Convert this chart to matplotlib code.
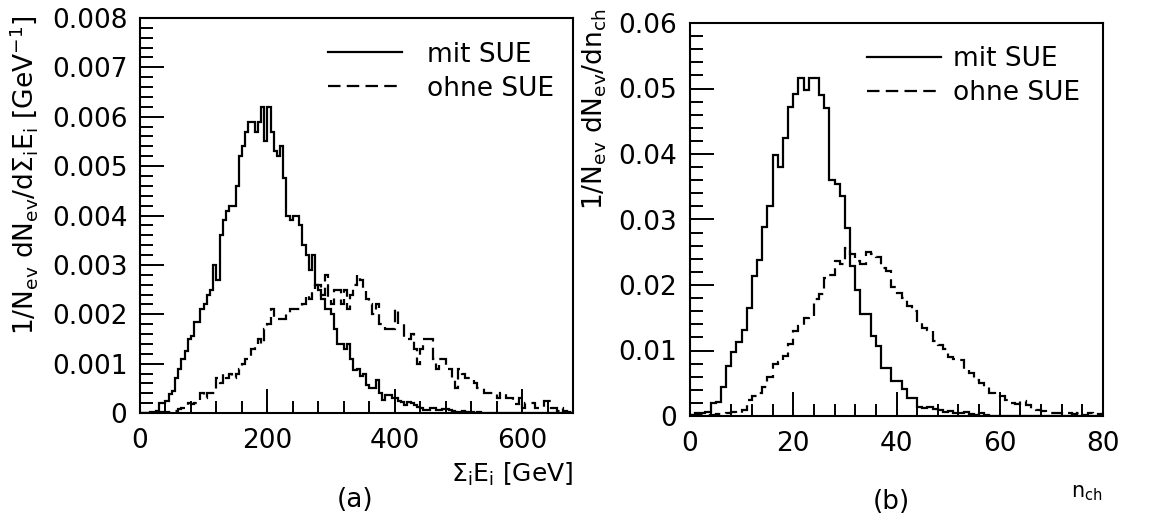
import numpy as np
import matplotlib
matplotlib.use("Agg")
import matplotlib.pyplot as plt
from matplotlib.lines import Line2D
from matplotlib.ticker import MultipleLocator, FuncFormatter

plt.rcParams['font.family'] = ['DejaVu Sans']
plt.rcParams['mathtext.fontset'] = 'dejavusans'
plt.rcParams['lines.scale_dashes'] = False

# ---------------- (a) summed energy, 5 GeV bins from 0 to 680 GeV ----------------
energy_range = (0, 680)
energy_bin = 5
esum_mit_sue = [
    0, 0, 0, 0.00003, 0.00003, 0.00004, 0.0002, 0.0002, 0.00025, 0.00039,
    0.00045, 0.0007, 0.0009, 0.0011, 0.00125, 0.0015, 0.00155, 0.00185, 0.00185, 0.0021,
    0.0022, 0.0024, 0.0025, 0.0030, 0.0027, 0.0036, 0.0039, 0.0041, 0.0042, 0.0042,
    0.0046, 0.0052, 0.0054, 0.0057, 0.0059, 0.0059, 0.0057, 0.0059, 0.0062, 0.0055,
    0.0062, 0.0057, 0.0053, 0.0052, 0.0054, 0.00475, 0.0040, 0.0039, 0.0040, 0.0040,
    0.0038, 0.0034, 0.0032, 0.0029, 0.0032, 0.0026, 0.0025, 0.0023, 0.0021, 0.0021,
    0.0020, 0.0017, 0.0014, 0.0014, 0.0013, 0.0014, 0.0011, 0.00087, 0.0009, 0.00074,
    0.0008, 0.00057, 0.0005, 0.0005, 0.00067, 0.0004, 0.00026, 0.00036, 0.00036, 0.0003,
    0.0003, 0.00025, 0.00023, 0.00017, 0.00023, 0.0002, 0.00017, 0.00012, 0.0001, 0.00006,
    0.00006, 0.0001, 0.0001, 0.00006, 0.00006, 0.00008, 0.00008, 0.00006, 0.00005, 0.00003,
    0.00003, 0.00005, 0.00002, 0.00003, 0.00002, 0.00001, 0.00002, 0.00001, 0, 0.00001,
    0, 0, 0, 0, 0, 0, 0, 0, 0, 0,
    0, 0, 0, 0, 0, 0, 0, 0, 0, 0,
    0, 0, 0, 0, 0, 0,
]
esum_ohne_sue = [
    0, 0, 0, 0, 0, 0, 0.00002, 0.00002, 0.00003, 0.00003,
    0.00005, 0.00005, 0.00008, 0.0001, 0.00015, 0.0002, 0.00018, 0.0002, 0.00025, 0.0004,
    0.0003, 0.0004, 0.0004, 0.0004, 0.0007, 0.0006, 0.0008, 0.0007, 0.0008, 0.0007,
    0.0008, 0.0009, 0.0010, 0.0011, 0.0011, 0.0013, 0.0014, 0.0015, 0.0014, 0.0017,
    0.0018, 0.0021, 0.0019, 0.0019, 0.0019, 0.0019, 0.0020, 0.0021, 0.0021, 0.0021,
    0.0021, 0.0022, 0.0024, 0.0023, 0.0025, 0.0026, 0.0026, 0.0024, 0.0028, 0.0023,
    0.0022, 0.0025, 0.0025, 0.0022, 0.0025, 0.0021, 0.0024, 0.0026, 0.0028, 0.0027,
    0.0025, 0.0023, 0.0022, 0.0020, 0.0022, 0.0018, 0.0018, 0.0017, 0.0017, 0.0017,
    0.0021, 0.0018, 0.0018, 0.0015, 0.0015, 0.0016, 0.0013, 0.0010, 0.0013, 0.0015,
    0.0015, 0.0015, 0.0011, 0.0009, 0.0011, 0.0011, 0.0009, 0.0009, 0.0007, 0.0005,
    0.0009, 0.0008, 0.0007, 0.0007, 0.0007, 0.0006, 0.0005, 0.0005, 0.0004, 0.0004,
    0.0004, 0.0004, 0.0003, 0.0004, 0.0004, 0.0003, 0.0003, 0.00018, 0.00018, 0.0003,
    0.0001, 0.0002, 0.0002, 0.0002, 0.0001, 0.0001, 0.0001, 0.00025, 0.00025, 0.0001,
    0.0001, 0.00005, 0.0001, 0.00005, 0.00003, 0.00002,
]

# ---------------- (b) charged multiplicity, unit bins from 0 to 80 ----------------
nch_range = (0, 80)
nch_mit_sue = [
    0.0002, 0.0004, 0.0005, 0.0006, 0.0020, 0.0021, 0.0044, 0.0076, 0.0097, 0.0113,
    0.0131, 0.0165, 0.0214, 0.0238, 0.0289, 0.0321, 0.0399, 0.0380, 0.0425, 0.0471,
    0.0491, 0.0516, 0.0498, 0.0516, 0.0516, 0.0490, 0.0470, 0.0360, 0.0354, 0.0336,
    0.0287, 0.0229, 0.0193, 0.0155, 0.0155, 0.0122, 0.0107, 0.0074, 0.0074, 0.0053,
    0.0053, 0.0041, 0.0028, 0.0028, 0.0013, 0.0012, 0.0014, 0.0010, 0.0009, 0.0006,
    0.0008, 0.0005, 0.0004, 0.0006, 0.0003, 0.0002, 0.0004, 0.0001, 0, 0,
    0, 0, 0, 0, 0, 0, 0, 0, 0, 0,
    0, 0, 0, 0, 0, 0, 0, 0, 0, 0,
]
nch_ohne_sue = [
    0.0001, 0.0001, 0.0002, 0.0002, 0.0002, 0.0003, 0.0003, 0.0004, 0.0006, 0.0005,
    0.0009, 0.0025, 0.0030, 0.0035, 0.0045, 0.0060, 0.0080, 0.0083, 0.0092, 0.0110,
    0.0130, 0.0138, 0.0150, 0.0153, 0.0178, 0.0186, 0.0210, 0.0215, 0.0237, 0.0232,
    0.0257, 0.0247, 0.0236, 0.0232, 0.0250, 0.0247, 0.0242, 0.0226, 0.0221, 0.0197,
    0.0188, 0.0180, 0.0168, 0.0160, 0.0142, 0.0135, 0.0131, 0.0115, 0.0108, 0.0103,
    0.0090, 0.0087, 0.0085, 0.0070, 0.0065, 0.0055, 0.0050, 0.0045, 0.0035, 0.0032,
    0.0030, 0.0025, 0.0020, 0.0018, 0.0023, 0.0017, 0.0010, 0.0009, 0.0008, 0.0006,
    0.0004, 0.0005, 0.0003, 0.0005, 0.0003, 0.0004, 0.0002, 0.0004, 0.0002, 0.0003,
]

legend_labels = ["mit SUE", "ohne SUE"]

W, H = 1150, 524
fig = plt.figure(figsize=(W / 100, H / 100), dpi=100)


def px_axes(x0, y0, x1, y1):
    """Axes placed by pixel box (left, top, right, bottom)."""
    return fig.add_axes([x0 / W, 1 - y1 / H, (x1 - x0) / W, (y1 - y0) / H])


FS = 19
LW = 1.6
DASH = (0, (9, 4.5))


def style_axes(ax, xmaj, xmin, ymaj, ymin):
    for s in ax.spines.values():
        s.set_linewidth(1.5)
    ax.xaxis.set_major_locator(MultipleLocator(xmaj))
    ax.xaxis.set_minor_locator(MultipleLocator(xmin))
    ax.yaxis.set_major_locator(MultipleLocator(ymaj))
    ax.yaxis.set_minor_locator(MultipleLocator(ymin))
    ax.tick_params(which='both', direction='in', top=False, right=False,
                   width=1.4, labelsize=FS)
    ax.tick_params(which='major', length=17)
    ax.tick_params(which='minor', length=9)
    ax.tick_params(axis='x', which='major', pad=11)
    ax.tick_params(axis='y', which='major', pad=9)
    fmt = FuncFormatter(lambda v, p: "0" if abs(v) < 1e-12 else f"{v:g}")
    ax.xaxis.set_major_formatter(fmt)
    ax.yaxis.set_major_formatter(fmt)


def add_legend(ax, x, y, textpad):
    handles = [Line2D([], [], color='black', lw=LW),
               Line2D([], [], color='black', lw=LW, linestyle=DASH)]
    ax.legend(handles, legend_labels, loc='upper left', bbox_to_anchor=(x, y),
              frameon=False, fontsize=FS, handlelength=2.8, handletextpad=textpad,
              labelspacing=0.3, borderpad=0, borderaxespad=0)


# ---------------- panel (a) ----------------
axa = px_axes(140, 18, 573, 413)
e_edges = np.arange(energy_range[0], energy_range[1] + energy_bin, energy_bin)
axa.stairs(esum_mit_sue, e_edges, color='black', lw=LW, baseline=None)
axa.stairs(esum_ohne_sue, e_edges, color='black', lw=LW, linestyle=DASH, baseline=None)
axa.set_xlim(*energy_range)
axa.set_ylim(0, 0.008)
style_axes(axa, 200, 40, 0.001, 0.0002)
add_legend(axa, 0.434, 0.94, 0.95)
axa.text(1.0, -0.155, r"$\Sigma_{\rm i}$E$_{\rm i}$ [GeV]", transform=axa.transAxes,
         ha='right', va='center', fontsize=18)
fig.text(24 / W, 1 - 15 / H,
         r"1/N$_{\rm ev}$ dN$_{\rm ev}$/d$\Sigma_{\rm i}$E$_{\rm i}$ [GeV$^{-1}$]",
         rotation=90, ha='center', va='top', fontsize=FS)
fig.text(355 / W, 1 - 500 / H, "(a)", ha='center', va='center', fontsize=FS)

# ---------------- panel (b) ----------------
axb = px_axes(690, 23, 1103, 416)
n_edges = np.arange(nch_range[0], nch_range[1] + 1, 1)
axb.stairs(nch_mit_sue, n_edges, color='black', lw=LW, baseline=None)
axb.stairs(nch_ohne_sue, n_edges, color='black', lw=LW, linestyle=DASH, baseline=None)
axb.set_xlim(*nch_range)
axb.set_ylim(0, 0.06)
style_axes(axb, 20, 4, 0.01, 0.002)
add_legend(axb, 0.4286, 0.9415, 0.45)
axb.text(1.0, -0.195, r"n$_{\rm ch}$", transform=axb.transAxes,
         ha='right', va='center', fontsize=15)
fig.text(595 / W, 1 - 8 / H, r"1/N$_{\rm ev}$ dN$_{\rm ev}$/dn$_{\rm ch}$",
         rotation=90, ha='center', va='top', fontsize=FS)
fig.text(891 / W, 1 - 502 / H, "(b)", ha='center', va='center', fontsize=FS)

fig.savefig("out.png", dpi=100, facecolor='white')
